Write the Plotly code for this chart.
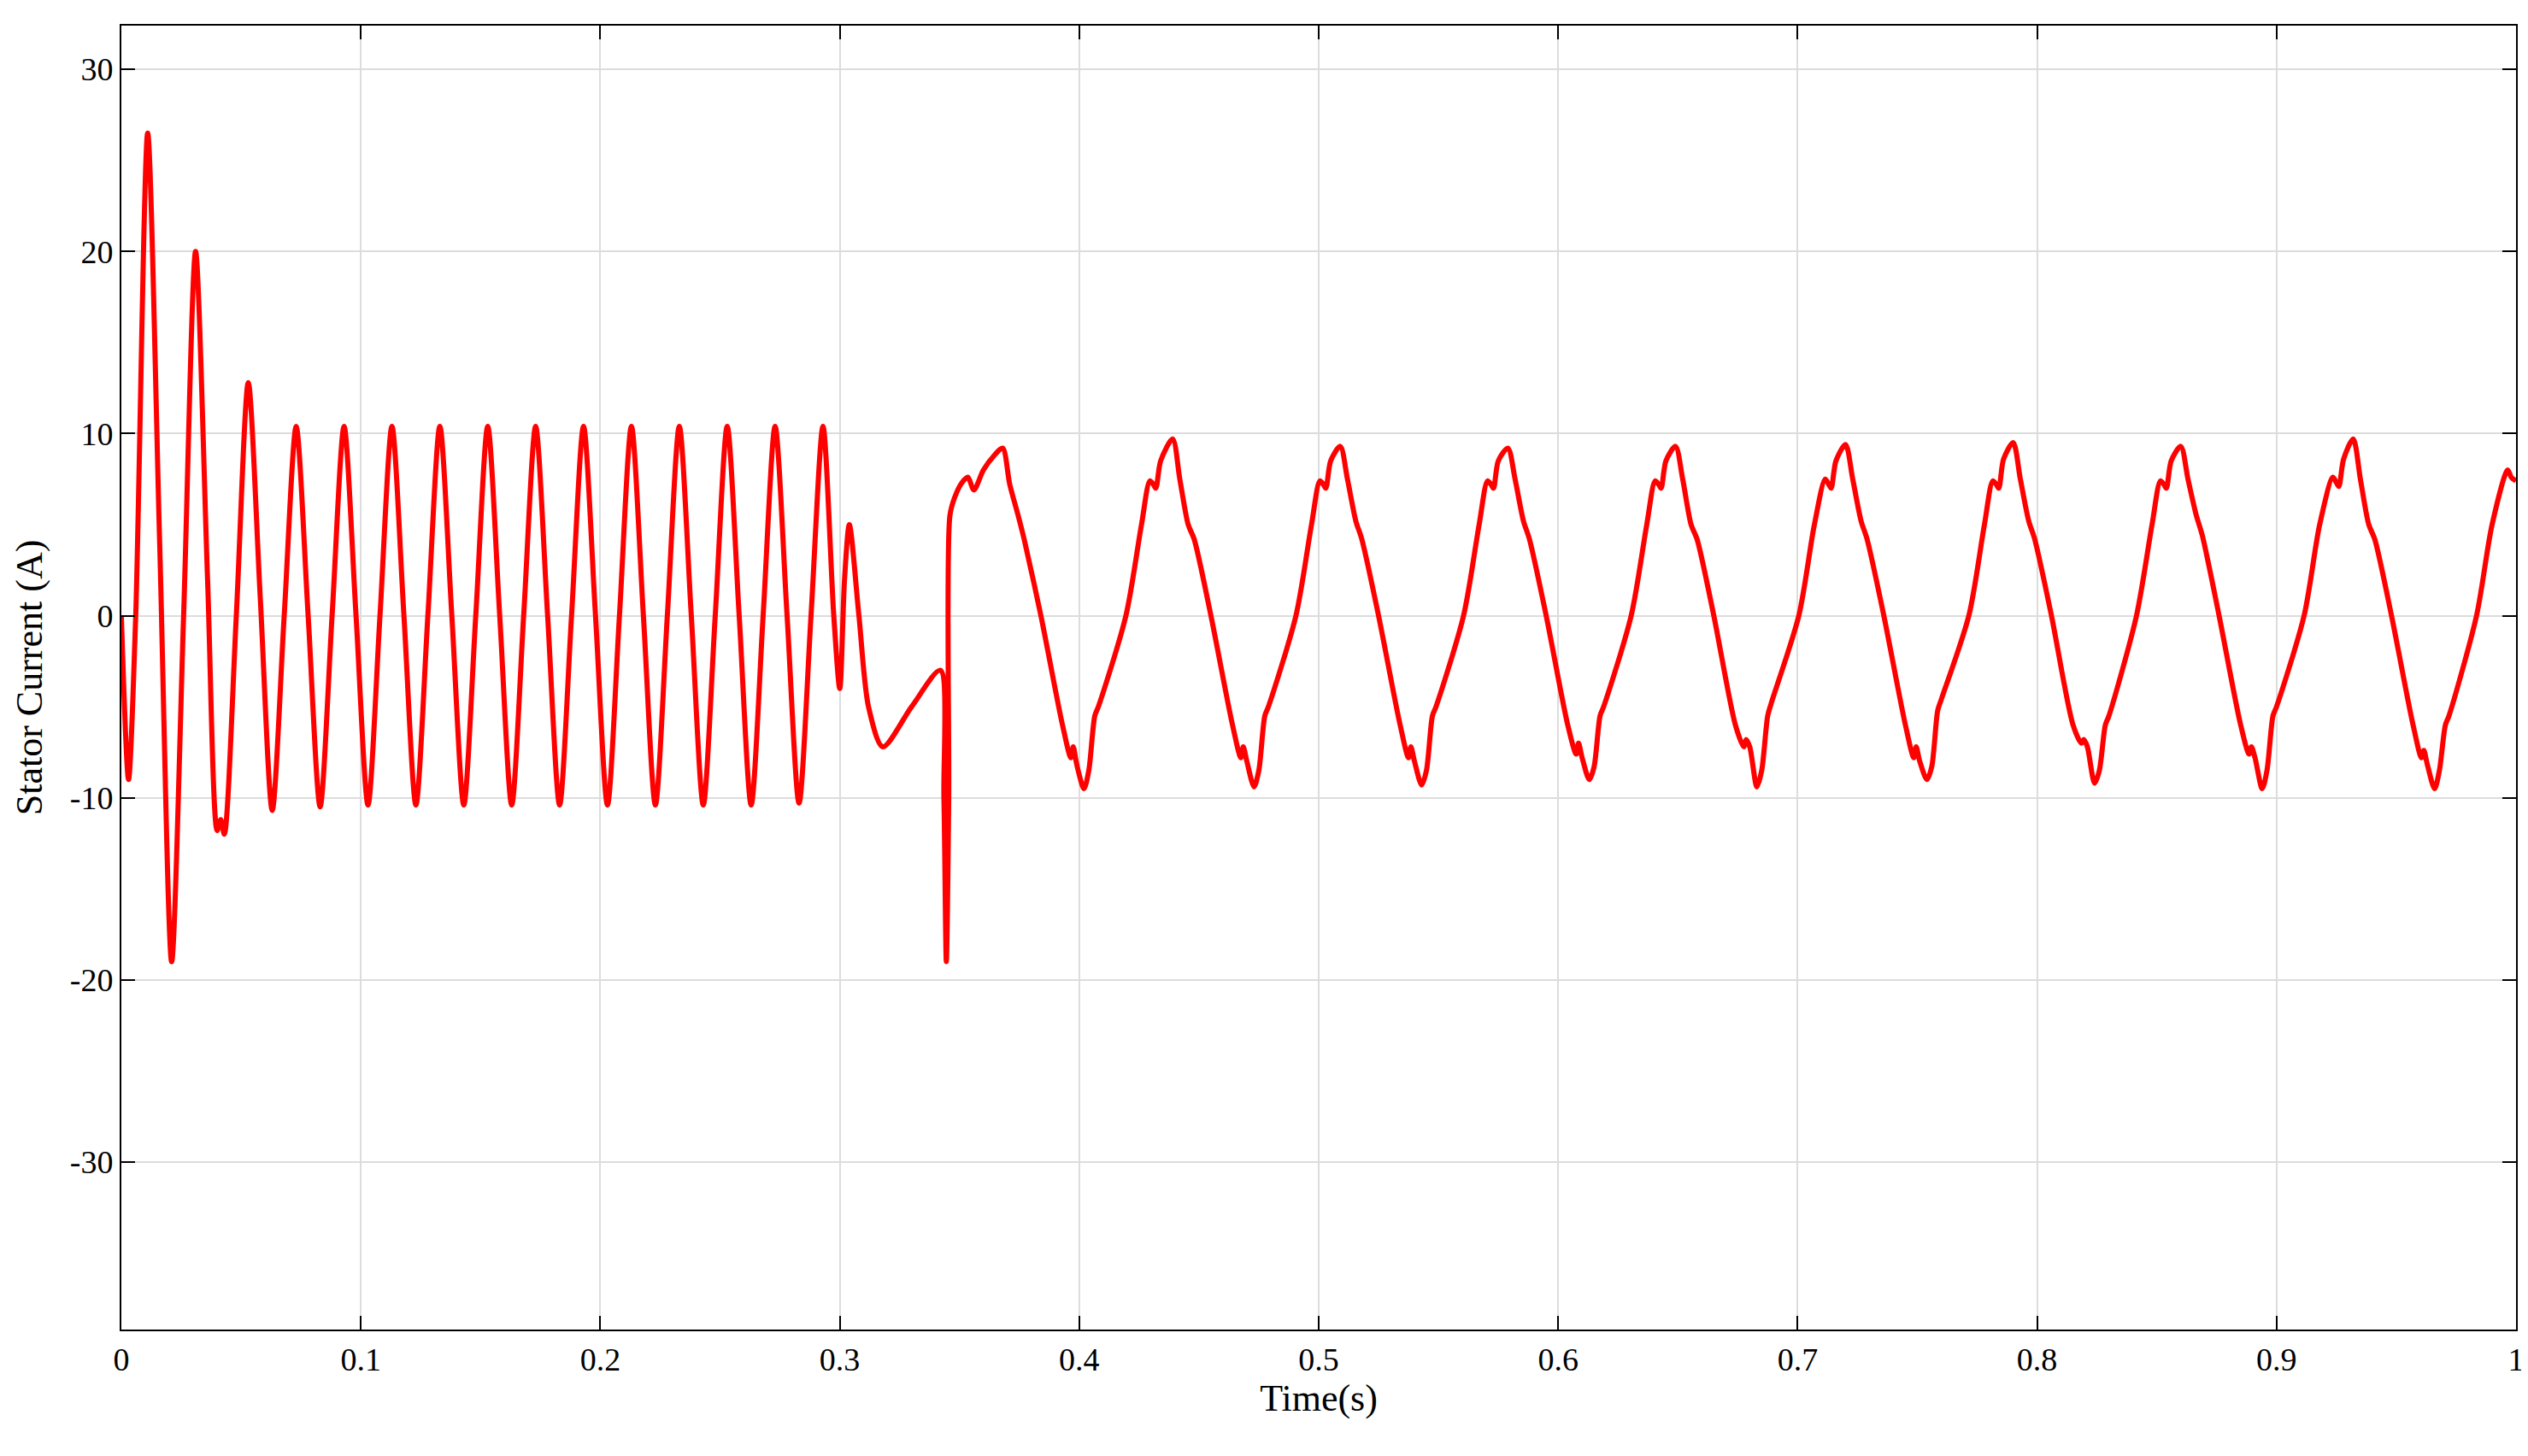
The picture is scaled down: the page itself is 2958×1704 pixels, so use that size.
import plotly.graph_objects as go

# early part: transient + 50 Hz oscillation
t_early = [0.000, 0.003, 0.006, 0.011, 0.016, 0.021, 0.026, 0.031, 0.036, 0.040, 0.0415, 0.043,
           0.048, 0.053, 0.058, 0.063, 0.068, 0.073, 0.078, 0.083, 0.088, 0.093, 0.098, 0.103,
           0.108, 0.113, 0.118, 0.123, 0.128, 0.133, 0.138, 0.143, 0.148, 0.153, 0.158, 0.163,
           0.168, 0.173, 0.178, 0.183, 0.188, 0.193, 0.198, 0.203, 0.208, 0.213, 0.218, 0.223,
           0.228, 0.233, 0.238, 0.243, 0.248, 0.253, 0.258, 0.263, 0.268, 0.273, 0.278, 0.283,
           0.288, 0.293, 0.2975, 0.300, 0.302, 0.304, 0.308, 0.312, 0.318, 0.330, 0.342,
           0.3435, 0.3445, 0.3455, 0.346, 0.348, 0.351, 0.3535, 0.356, 0.360, 0.3645]
i_early = [0.0, -9.0, 0.0, 26.5, 4.0, -19.0, 0.0, 20.0, 2.0, -11.8, -11.2, -12.0,
           0.0, 12.8, 1.0, -10.7, 0.0, 10.4, 0.0, -10.5, 0.0, 10.4, 0.0, -10.4,
           0.0, 10.4, 0.0, -10.4, 0.0, 10.4, 0.0, -10.4, 0.0, 10.4, 0.0, -10.4,
           0.0, 10.4, 0.0, -10.4, 0.0, 10.4, 0.0, -10.4, 0.0, 10.4, 0.0, -10.4,
           0.0, 10.4, 0.0, -10.4, 0.0, 10.4, 0.0, -10.4, 0.0, 10.4, 0.0, -10.3,
           0.0, 10.4, 0.0, -4.0, 2.0, 5.0, 0.0, -5.0, -7.2, -5.0, -3.0,
           -10.0, -19.0, -10.0, 5.5, 6.5, 7.3, 7.6, 6.9, 8.0, 8.8]

# later part: ~14 Hz distorted current
t_late = [0.368, 0.371, 0.3745, 0.377, 0.384, 0.393, 0.3965, 0.3975, 0.399, 0.402, 0.404, 0.4065, 0.408, 0.4195, 0.426, 0.4295, 0.431, 0.432, 0.434,
          0.439, 0.442, 0.4455, 0.448, 0.455, 0.464, 0.4675, 0.4685, 0.470, 0.473, 0.475, 0.4775, 0.479, 0.4905, 0.497, 0.5005, 0.502, 0.503, 0.505,
          0.509, 0.512, 0.5155, 0.518, 0.525, 0.534, 0.5375, 0.5385, 0.540, 0.543, 0.545, 0.5475, 0.549, 0.5605, 0.567, 0.5705, 0.572, 0.573, 0.575,
          0.579, 0.582, 0.5855, 0.588, 0.595, 0.604, 0.6075, 0.6085, 0.610, 0.613, 0.615, 0.6175, 0.619, 0.6305, 0.637, 0.6405, 0.642, 0.643, 0.645,
          0.649, 0.652, 0.6555, 0.658, 0.665, 0.674, 0.6775, 0.6785, 0.680, 0.683, 0.685, 0.6875, 0.689, 0.7005, 0.707, 0.7115, 0.713, 0.714, 0.716,
          0.720, 0.723, 0.7265, 0.729, 0.736, 0.745, 0.7485, 0.7495, 0.751, 0.754, 0.756, 0.7585, 0.760, 0.7715, 0.778, 0.7815, 0.783, 0.784, 0.786,
          0.790, 0.793, 0.7965, 0.799, 0.806, 0.815, 0.8185, 0.8195, 0.821, 0.824, 0.826, 0.8285, 0.830, 0.8415, 0.848, 0.8515, 0.853, 0.854, 0.856,
          0.860, 0.863, 0.8665, 0.869, 0.876, 0.885, 0.8885, 0.8895, 0.891, 0.894, 0.896, 0.8985, 0.900, 0.9115, 0.918, 0.9235, 0.925, 0.926, 0.928,
          0.932, 0.935, 0.9385, 0.941, 0.948, 0.957, 0.9605, 0.9615, 0.963, 0.966, 0.968, 0.9705, 0.972, 0.9835, 0.990, 0.9965, 0.998, 1.000]
i_late = [9.2, 7.2, 5.5, 4.2, 0.0, -6.0, -7.8, -7.2, -8.2, -9.5, -8.5, -5.5, -5.0, 0.0, 5.0, 7.4, 7.2, 7.0, 8.5,
          9.7, 7.5, 5.0, 4.2, 0.0, -6.0, -7.8, -7.2, -8.0, -9.4, -8.5, -5.5, -5.0, 0.0, 5.0, 7.4, 7.2, 7.0, 8.5,
          9.3, 7.5, 5.2, 4.2, 0.0, -6.0, -7.8, -7.2, -8.0, -9.3, -8.5, -5.5, -5.0, 0.0, 5.0, 7.4, 7.2, 7.0, 8.5,
          9.2, 7.5, 5.2, 4.2, 0.0, -6.0, -7.6, -7.0, -7.8, -9.0, -8.3, -5.5, -5.0, 0.0, 5.0, 7.4, 7.2, 7.0, 8.5,
          9.3, 7.5, 5.0, 4.2, 0.0, -6.0, -7.2, -6.8, -7.2, -9.4, -8.5, -5.5, -4.8, 0.0, 5.0, 7.5, 7.2, 7.0, 8.5,
          9.4, 7.5, 5.2, 4.2, 0.0, -6.0, -7.8, -7.2, -8.0, -9.0, -8.3, -5.2, -4.6, 0.0, 5.0, 7.4, 7.2, 7.0, 8.6,
          9.5, 7.5, 5.2, 4.2, 0.0, -6.0, -7.0, -6.8, -7.2, -9.2, -8.5, -6.0, -5.5, 0.0, 5.0, 7.4, 7.2, 7.0, 8.5,
          9.3, 7.5, 5.5, 4.4, 0.0, -6.0, -7.6, -7.2, -7.8, -9.5, -8.5, -5.5, -5.0, 0.0, 5.0, 7.6, 7.3, 7.1, 8.6,
          9.7, 7.5, 5.0, 4.2, 0.0, -6.0, -7.8, -7.4, -8.2, -9.5, -8.5, -6.0, -5.5, 0.0, 5.0, 8.0, 7.6, 7.4]

x_ticks = [0, 0.1, 0.2, 0.3, 0.4, 0.5, 0.6, 0.7, 0.8, 0.9, 1]
x_labels = ["0", "0.1", "0.2", "0.3", "0.4", "0.5", "0.6", "0.7", "0.8", "0.9", "1"]
y_ticks = [-30, -20, -10, 0, 10, 20, 30]
y_labels = ["-30", "-20", "-10", "0", "10", "20", "30"]

fig = go.Figure()
fig.add_trace(go.Scatter(
    x=t_early + t_late, y=i_early + i_late, mode='lines',
    line=dict(color='#ff0000', width=6, shape='spline', smoothing=0.8),
    showlegend=False
))

axis_style = dict(
    showline=True, linecolor='black', linewidth=2, mirror='ticks',
    ticks='inside', ticklen=16, tickwidth=2, tickcolor='black',
    showgrid=True, gridcolor='#dcdcdc', gridwidth=2, zeroline=False,
    tickfont=dict(family='Liberation Serif', size=38, color='black'),
)
title_font = dict(family='Liberation Serif', size=44, color='black')

fig.update_xaxes(range=[0, 1], tickvals=x_ticks, ticktext=x_labels,
                 title=dict(text='Time(s)', font=title_font, standoff=10),
                 **axis_style)
fig.update_yaxes(range=[-39.2, 32.4], tickvals=y_ticks, ticktext=y_labels,
                 title=dict(text='Stator Current (A)', font=title_font, standoff=18),
                 **axis_style)

fig.update_layout(
    width=2958, height=1704,
    paper_bgcolor='white', plot_bgcolor='white',
    margin=dict(l=134, r=20, t=22, b=156),
)

fig.write_html("out.html")
